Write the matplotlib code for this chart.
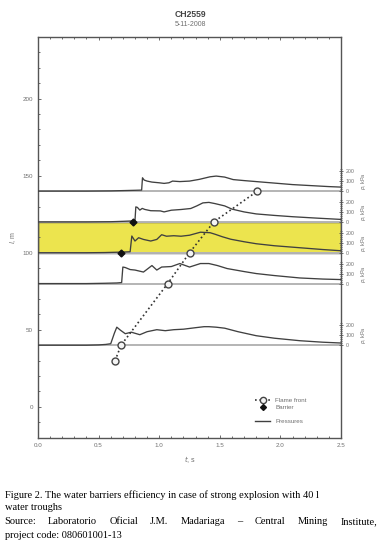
import matplotlib
matplotlib.use("Agg")
import matplotlib.pyplot as plt
from matplotlib.lines import Line2D
import numpy as np

# pressure traces: time (s) and pressure (kPa), one per gauge distance (m)
t140 = [0, 0.4, 0.6, 0.7, 0.8, 0.855, 0.862, 0.876, 0.90, 0.94, 1.0, 1.04, 1.08, 1.11, 1.17, 1.25,
        1.33, 1.42, 1.47, 1.54, 1.61, 1.7, 1.8, 1.95, 2.1, 2.25, 2.4, 2.5]
p140 = [0, 0, 2, 5, 8, 10, 133, 110, 100, 90, 83, 77, 83, 100, 95, 100,
        117, 143, 150, 140, 115, 105, 95, 80, 65, 55, 45, 40]

t120 = [0, 0.4, 0.6, 0.7, 0.78, 0.80, 0.807, 0.82, 0.84, 0.86, 0.88, 0.93, 1.01, 1.04, 1.1, 1.18,
        1.26, 1.31, 1.36, 1.41, 1.46, 1.54, 1.6, 1.7, 1.8, 1.95, 2.1, 2.3, 2.5]
p120 = [0, 0, 2, 6, 10, 12, 150, 145, 118, 135, 125, 112, 110, 100, 117, 124,
        134, 160, 190, 195, 183, 160, 128, 100, 80, 65, 52, 38, 25]

t100 = [0, 0.4, 0.55, 0.68, 0.76, 0.774, 0.80, 0.83, 0.87, 0.93, 0.98, 1.02, 1.06, 1.12, 1.18,
        1.25, 1.34, 1.42, 1.46, 1.52, 1.59, 1.7, 1.8, 1.95, 2.16, 2.35, 2.5]
p100 = [0, 0, 2, 6, 10, 167, 117, 150, 133, 117, 133, 180, 165, 170, 165,
        175, 205, 200, 185, 160, 135, 110, 90, 70, 50, 32, 20]

t80 = [0, 0.4, 0.55, 0.65, 0.69, 0.70, 0.72, 0.76, 0.8, 0.87, 0.94, 0.98, 1.02, 1.1, 1.17,
       1.25, 1.34, 1.41, 1.48, 1.56, 1.7, 1.8, 1.95, 2.16, 2.35, 2.5]
p80 = [0, 0, 3, 6, 10, 165, 160, 140, 135, 115, 180, 135, 165, 170, 200,
       165, 200, 200, 180, 150, 120, 100, 80, 56, 45, 40]

t40 = [0, 0.4, 0.5, 0.56, 0.6, 0.63, 0.65, 0.68, 0.72, 0.77, 0.84, 0.9, 0.98, 1.05, 1.12, 1.2,
       1.3, 1.37, 1.41, 1.47, 1.54, 1.65, 1.8, 1.95, 2.16, 2.35, 2.5]
p40 = [0, 0, 3, 8, 15, 120, 180, 150, 115, 130, 105, 135, 155, 145, 155, 160,
       175, 185, 185, 180, 170, 135, 95, 70, 45, 30, 22]

traces = [(140, t140, p140), (120, t120, p120), (100, t100, p100), (80, t80, p80), (40, t40, p40)]

# flame front arrival and barrier activation
flame_t = [0.636, 0.685, 1.07, 1.25, 1.45, 1.81]
flame_l = [30, 40, 80, 100, 120, 140]
barrier_t = [0.685, 0.78]
barrier_l = [100, 120]

kpa_scale = 0.065   # metres of plot per kPa
barrier_zone = (100, 120)

plt.rcParams['font.family'] = ['Liberation Sans', 'DejaVu Sans']
grey = '#6f6f6f'

fig = plt.figure(figsize=(3.89, 5.48), dpi=100)
ax = fig.add_axes([0.0977, 0.2013, 0.779, 0.7312])

ax.axhspan(barrier_zone[0], barrier_zone[1], facecolor='#ece44e', edgecolor='#4a4a4a', lw=1.0, zorder=1)

for base, t, p in traces:
    ax.axhline(base, color='#b4b4b4', lw=1.4, zorder=2)
    ax.plot(t, base + np.array(p) * kpa_scale, color='#404040', lw=0.95, zorder=3)

ax.plot(flame_t, flame_l, ls=':', color='#333333', lw=1.2, marker='o', ms=5,
        mfc='#f4f4f4', mec='#444444', mew=1.0, zorder=5)
ax.plot(barrier_t, barrier_l, ls='none', marker='D', ms=3.5, color='#111111', zorder=6)

ax.set_xlim(0, 2.5)
ax.set_ylim(-20, 240)
ax.set_xticks(np.arange(0, 2.51, 0.5))
ax.set_xticks(np.arange(0, 2.51, 0.1), minor=True)
ax.set_yticks([0, 50, 100, 150, 200])
ax.set_yticks(np.arange(-20, 241, 10), minor=True)
ax.xaxis.set_major_formatter(matplotlib.ticker.FormatStrFormatter('%.1f'))
ax.tick_params(which='both', direction='in', top=True, right=False, labelsize=4.5,
               labelcolor=grey, color='#555555', width=0.6)
ax.tick_params(which='major', length=2.5)
ax.tick_params(which='minor', length=1.5)
for s in ax.spines.values():
    s.set_color('#555555')
    s.set_linewidth(1.0)

ax.set_xlabel(r'$t$, s', fontsize=5, color=grey, labelpad=5)
ax.set_ylabel(r'$l$, m', fontsize=5, color=grey, labelpad=3)

# pressure scales on the right side
ax2 = ax.twinx()
ax2.set_ylim(ax.get_ylim())
major, labels, minor = [], [], []
for base, _, _ in traces:
    for k in (0, 100, 200):
        major.append(base + k * kpa_scale)
        labels.append(str(k))
    for k in range(20, 221, 20):
        if k % 100:
            minor.append(base + k * kpa_scale)
    ax2.text(1.075, base + 100 * kpa_scale, r'$p$, kPa', transform=ax2.get_yaxis_transform(),
             rotation=90, ha='center', va='center', fontsize=4, color=grey)
ax2.set_yticks(major)
ax2.set_yticklabels(labels)
ax2.set_yticks(minor, minor=True)
ax2.tick_params(which='both', direction='inout', labelsize=3.8, labelcolor=grey,
                color='#555555', width=0.6, pad=2)
ax2.tick_params(which='major', length=3)
ax2.tick_params(which='minor', length=2)
for s in ax2.spines.values():
    s.set_visible(False)

handles = [Line2D([], [], ls=':', color='#333333', lw=1.2, marker='o', ms=4.5,
                  mfc='#f4f4f4', mec='#444444'),
           Line2D([], [], ls='none', marker='D', ms=3, color='#111111'),
           Line2D([], [], ls='none'),
           Line2D([], [], color='#404040', lw=1.0)]
leg = ax.legend(handles, ['Flame front', 'Barrier', '', 'Pressures'], loc='lower right',
                bbox_to_anchor=(0.905, 0.02), frameon=False, fontsize=4.5,
                labelspacing=0.25, handlelength=2.4, handletextpad=0.8)
for txt in leg.get_texts():
    txt.set_color(grey)

fig.text(0.4885, 0.973, 'CH2559', ha='center', va='center', fontsize=6.2, fontweight='bold', color='#444444')
fig.text(0.4885, 0.956, '5-11-2008', ha='center', va='center', fontsize=5, color=grey)

# caption
serif = ['Liberation Serif', 'DejaVu Serif']
cap_size = 7.5
fig.text(0.012, 1 - 495 / 548, 'Figure 2. The water barriers efficiency in case of strong explosion with 40 l',
         family=serif, fontsize=cap_size, va='center')
fig.text(0.012, 1 - 508 / 548, 'water troughs', family=serif, fontsize=cap_size, va='center')
fig.text(0.012, 1 - 536 / 548, 'project code: 080601001-13', family=serif, fontsize=cap_size, va='center')

# justified line
words = 'Source: Laboratorio Oficial J.M. Madariaga \u2013 Central Mining Institute,'.split()
renderer = fig.canvas.get_renderer()
x_left, x_right = 4, 377
objs = [fig.text(0, 1 - 522 / 548, w, family=serif, fontsize=cap_size, va='center') for w in words]
widths = [o.get_window_extent(renderer).width for o in objs]
gap = (x_right - x_left - sum(widths)) / (len(words) - 1)
x = x_left
for o, w in zip(objs, widths):
    o.set_x(x / 389)
    x += w + gap

fig.savefig('out.png', dpi=100)
